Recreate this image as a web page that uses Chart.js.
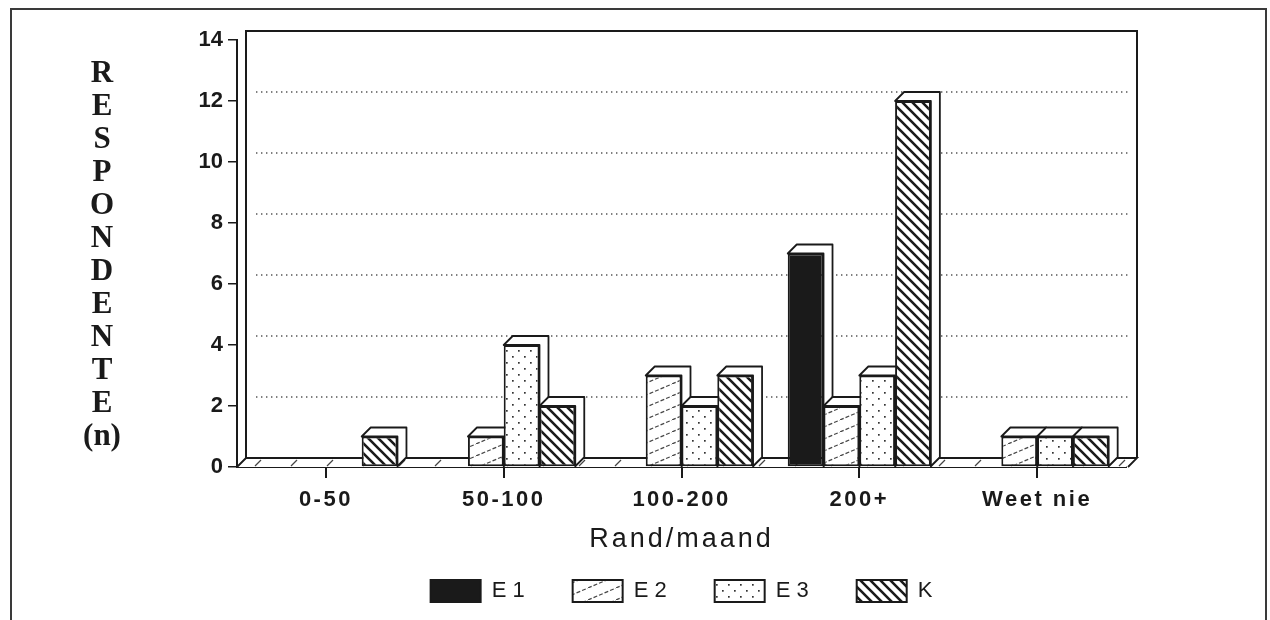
<!DOCTYPE html>
<html><head><meta charset="utf-8">
<script src="https://cdn.jsdelivr.net/npm/chart.js@4.4.1/dist/chart.umd.min.js"></script>
<style>
html,body{margin:0;padding:0;background:#fff;overflow:hidden;}
#frame{position:absolute;left:10px;top:8px;width:1257px;height:700px;border:2px solid #3a3a3a;box-sizing:border-box;}
#wrap{position:absolute;left:0;top:0;width:1270px;height:620px;}
</style></head><body>
<div id="frame"></div>
<div id="wrap"><canvas id="c" width="1270" height="620"></canvas></div>
<script>
// ---- data ----
const categories = ['0-50', '50-100', '100-200', '200+', 'Weet nie'];
const seriesLabels = ['E 1', 'E 2', 'E 3', 'K'];
const valuesE1 = [0, 0, 0, 7, 0];
const valuesE2 = [0, 1, 3, 2, 1];
const valuesE3 = [0, 4, 2, 3, 1];
const valuesK  = [1, 2, 3, 12, 1];
const yMin = 0, yMax = 14, yStep = 2;
const yTitleLetters = ['R','E','S','P','O','N','D','E','N','T','E','(n)'];
const xTitle = 'Rand/maand';

const INK = '#1a1a1a';
const DEPTH = 9;

function tile(w, h, draw) {
  const t = document.createElement('canvas');
  t.width = w; t.height = h;
  const g = t.getContext('2d');
  g.fillStyle = '#fff'; g.fillRect(0, 0, w, h);
  draw(g, w, h);
  return g.createPattern(t, 'repeat');
}
const patSolid = INK;
const patE2 = tile(28, 12, (g, w, h) => {
  g.strokeStyle = '#444'; g.lineWidth = 1.2; g.setLineDash([4, 2]);
  g.beginPath(); g.moveTo(0, h); g.lineTo(w, 0); g.stroke();
});
const patE3 = tile(12, 12, (g) => {
  g.fillStyle = '#333';
  g.fillRect(2, 2, 1.7, 1.7); g.fillRect(8, 8, 1.7, 1.7);
});
const patK = tile(10, 10, (g) => {
  g.strokeStyle = INK; g.lineWidth = 2.6;
  g.beginPath();
  g.moveTo(-2, -2); g.lineTo(12, 12);
  g.moveTo(-2, 8); g.lineTo(2, 12);
  g.moveTo(8, -2); g.lineTo(12, 2);
  g.stroke();
});

const threeD = {
  id: 'threeD',
  beforeDraw(chart) {
    const xs = chart.scales.x;
    if (xs && !xs._spaced) {
      const dl = xs.drawLabels, dt = xs.drawTitle;
      xs.drawLabels = function (a) { const c = this.ctx; c.save(); c.letterSpacing = '2.5px'; dl.call(this, a); c.restore(); };
      xs.drawTitle = function () { const c = this.ctx; c.save(); c.letterSpacing = '3px'; dt.call(this); c.restore(); };
      xs._spaced = true;
    }
  },
  beforeDatasetsDraw(chart) {
    const { ctx, chartArea: { left, right, top, bottom }, scales: { y } } = chart;
    const d = DEPTH;
    ctx.save();
    // dotted gridlines on back wall
    ctx.strokeStyle = '#555'; ctx.lineWidth = 1.4; ctx.setLineDash([1.4, 3.6]);
    for (let v = yMin + yStep; v < yMax; v += yStep) {
      const py = y.getPixelForValue(v) - d;
      ctx.beginPath(); ctx.moveTo(left + d + 10, py); ctx.lineTo(right + d - 4, py); ctx.stroke();
    }
    ctx.setLineDash([]);
    // back wall outline
    ctx.strokeStyle = INK; ctx.lineWidth = 2;
    ctx.beginPath();
    ctx.moveTo(left + d, bottom - d); ctx.lineTo(left + d, top - d);
    ctx.lineTo(right + d + 2, top - d); ctx.lineTo(right + d + 2, bottom - d);
    ctx.stroke();
    // floor
    ctx.fillStyle = '#fff';
    ctx.beginPath();
    ctx.moveTo(left, bottom); ctx.lineTo(left + d, bottom - d);
    ctx.lineTo(right + d + 2, bottom - d); ctx.lineTo(right, bottom); ctx.closePath();
    ctx.fill();
    ctx.lineWidth = 1.8;
    ctx.beginPath();
    ctx.moveTo(left, bottom); ctx.lineTo(left + d, bottom - d);
    ctx.lineTo(right + d + 2, bottom - d); ctx.lineTo(right + 2, bottom);
    ctx.stroke();
    ctx.lineWidth = 1.2; ctx.strokeStyle = '#444';
    for (let xx = left + 18; xx < right - 5; xx += 36) {
      ctx.beginPath(); ctx.moveTo(xx, bottom - 1); ctx.lineTo(xx + 6, bottom - d + 2); ctx.stroke();
    }
    // bar extrusions (top + right faces)
    const bars = [];
    chart.data.datasets.forEach((ds, i) => {
      const meta = chart.getDatasetMeta(i);
      meta.data.forEach((el, j) => { if (ds.data[j] > 0) bars.push(el); });
    });
    bars.sort((a, b) => a.x - b.x);
    ctx.strokeStyle = INK; ctx.lineWidth = 1.8; ctx.lineJoin = 'round';
    for (const b of bars) {
      const x0 = b.x - b.width / 2, x1 = b.x + b.width / 2, t = b.y, base = b.base;
      ctx.beginPath();
      ctx.moveTo(x0, t); ctx.lineTo(x0 + d, t - d); ctx.lineTo(x1 + d, t - d);
      ctx.lineTo(x1 + d, base - d); ctx.lineTo(x1, base); ctx.lineTo(x1, t); ctx.closePath();
      ctx.fillStyle = '#fff'; ctx.fill(); ctx.stroke();
    }
    ctx.restore();
  },
  afterDraw(chart) {
    const ctx = chart.ctx;
    ctx.save();
    ctx.fillStyle = INK;
    ctx.font = 'bold 31px "Liberation Serif"';
    ctx.textAlign = 'center'; ctx.textBaseline = 'alphabetic';
    yTitleLetters.forEach((s, i) => ctx.fillText(s, 102, 82 + i * 33));
    ctx.restore();
  }
};

new Chart(document.getElementById('c'), {
  type: 'bar',
  data: {
    labels: categories,
    datasets: [
      { label: seriesLabels[0], data: valuesE1, backgroundColor: patSolid },
      { label: seriesLabels[1], data: valuesE2, backgroundColor: patE2 },
      { label: seriesLabels[2], data: valuesE3, backgroundColor: patE3 },
      { label: seriesLabels[3], data: valuesK, backgroundColor: patK }
    ]
  },
  options: {
    responsive: false,
    animation: false,
    devicePixelRatio: 1,
    layout: { padding: { left: 0, right: 144, top: 40, bottom: 8 } },
    datasets: { bar: { borderColor: INK, borderWidth: 2, borderSkipped: false, categoryPercentage: 0.805, barPercentage: 1.0 } },
    plugins: {
      tooltip: { enabled: false },
      legend: {
        position: 'bottom',
        fullSize: false,
        labels: {
          boxWidth: 50, boxHeight: 22, padding: 48,
          color: INK,
          font: { family: '"Liberation Sans"', size: 22 }
        }
      }
    },
    scales: {
      x: {
        afterFit: (s) => { s.height = 65; },
        grid: { drawOnChartArea: false, offset: false, tickLength: 11, color: INK, lineWidth: 2 },
        border: { display: true, color: INK, width: 2 },
        ticks: { color: INK, padding: 9, autoSkip: false, maxRotation: 0, font: { family: '"Liberation Sans"', size: 22, weight: 'bold' } },
        title: { display: true, text: xTitle, color: INK, padding: { top: 0, bottom: -24 }, font: { family: '"Liberation Sans"', size: 27 } }
      },
      y: {
        min: yMin, max: yMax,
        afterFit: (s) => { s.width = 237; },
        grid: { drawOnChartArea: false, tickLength: 9, color: INK, lineWidth: 1.5 },
        border: { display: true, color: INK, width: 2 },
        ticks: { stepSize: yStep, color: INK, padding: 5, font: { family: '"Liberation Sans"', size: 22, weight: 'bold' } }
      }
    }
  },
  plugins: [threeD]
});
</script>
</body></html>
